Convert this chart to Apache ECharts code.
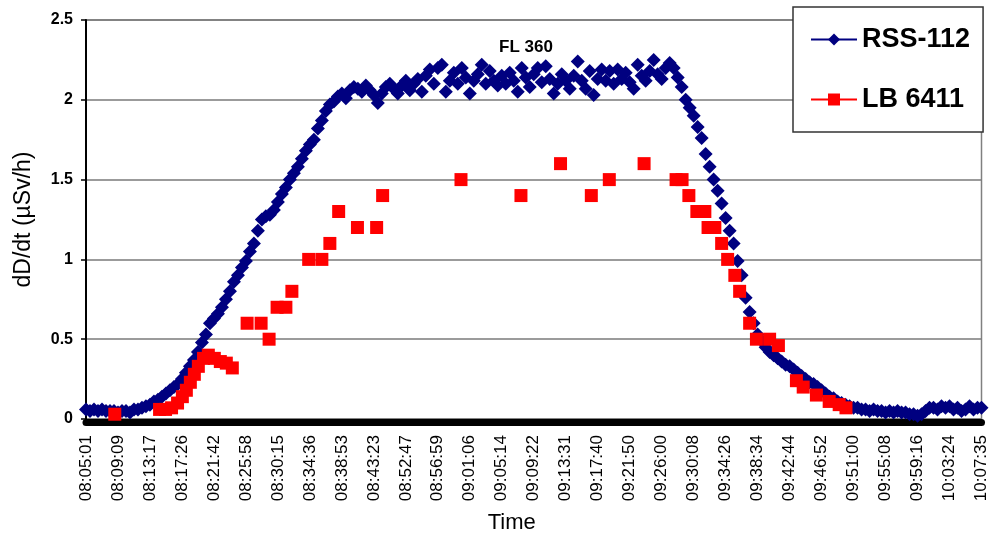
<!DOCTYPE html>
<html>
<head>
<meta charset="utf-8">
<script src="https://cdn.jsdelivr.net/npm/echarts@6/dist/echarts.min.js"></script>
<style>
html,body{margin:0;padding:0;background:#fff;}
#chart{width:990px;height:539px;}
</style>
</head>
<body>
<div id="chart"></div>
<script>
// Tick labels shown on the time axis (one every 8 samples)
var timeLabels = ['08:05:01','08:09:09','08:13:17','08:17:26','08:21:42','08:25:58','08:30:15','08:34:36',
  '08:38:53','08:43:23','08:52:47','08:56:59','09:01:06','09:05:14','09:09:22','09:13:31','09:17:40',
  '09:21:50','09:26:00','09:30:08','09:34:26','09:38:34','09:42:44','09:46:52','09:51:00','09:55:08',
  '09:59:16','10:03:24','10:07:35'];
var samplesPerLabel = 8;

// RSS-112 dose rate, one value per sample (µSv/h)
var rssValues = [
  0.06,0.05,0.06,0.05,0.06,0.05,0.05,0.05,0.04,0.05,
  0.05,0.04,0.06,0.06,0.07,0.08,0.09,0.11,0.12,0.14,
  0.16,0.18,0.2,0.22,0.25,0.29,0.33,0.37,0.42,0.48,
  0.53,0.6,0.63,0.66,0.7,0.75,0.8,0.86,0.9,0.95,
  0.99,1.05,1.1,1.18,1.25,1.27,1.28,1.31,1.36,1.41,
  1.45,1.5,1.54,1.58,1.63,1.68,1.72,1.75,1.82,1.87,
  1.93,1.97,1.99,2.02,2.04,2.01,2.06,2.08,2.07,2.05,
  2.09,2.06,2.03,1.98,2.04,2.08,2.1,2.07,2.04,2.09,
  2.12,2.06,2.1,2.13,2.05,2.15,2.19,2.1,2.2,2.22,
  2.05,2.12,2.17,2.1,2.2,2.14,2.04,2.12,2.16,2.22,
  2.1,2.18,2.12,2.09,2.15,2.1,2.17,2.12,2.05,2.2,
  2.14,2.08,2.16,2.2,2.11,2.21,2.13,2.04,2.1,2.16,
  2.12,2.07,2.15,2.24,2.12,2.07,2.18,2.03,2.13,2.19,
  2.12,2.18,2.1,2.19,2.13,2.17,2.11,2.07,2.22,2.15,
  2.12,2.18,2.25,2.16,2.13,2.2,2.23,2.2,2.14,2.08,
  2.0,1.95,1.9,1.83,1.76,1.66,1.58,1.5,1.43,1.35,
  1.26,1.18,1.1,0.99,0.9,0.76,0.67,0.6,0.53,0.49,
  0.45,0.42,0.4,0.38,0.36,0.34,0.33,0.31,0.29,0.27,
  0.25,0.23,0.22,0.2,0.18,0.16,0.14,0.13,0.11,0.1,
  0.09,0.08,0.07,0.07,0.06,0.06,0.05,0.06,0.05,0.05,
  0.04,0.05,0.04,0.05,0.04,0.04,0.03,0.03,0.02,0.03,
  0.05,0.07,0.07,0.06,0.08,0.07,0.08,0.06,0.07,0.05,
  0.06,0.08,0.06,0.07,0.07
];

// LB 6411 readings: sample position on the time axis and value (µSv/h)
var lbPos = [7.2,18.4,19.9,21.4,22.9,24.1,25.1,26.1,27.1,28.1,29.4,30.6,32.1,33.6,35.1,36.6,
  40.3,43.8,45.8,47.8,50.0,51.5,55.7,59.0,61.0,63.2,67.9,72.7,74.2,93.8,108.8,118.7,126.4,130.9,
  139.6,147.6,149.1,150.8,152.8,154.8,155.6,157.3,159.0,160.5,162.3,163.5,166.0,167.7,171.0,173.2,
  177.7,179.4,182.7,185.9,188.4,190.1];
var lbValues = [0.03,0.06,0.06,0.07,0.1,0.14,0.18,0.23,0.28,0.33,0.38,0.4,0.38,0.36,0.35,0.32,
  0.6,0.6,0.5,0.7,0.7,0.8,1.0,1.0,1.1,1.3,1.2,1.2,1.4,1.5,1.4,1.6,1.4,1.5,
  1.6,1.5,1.5,1.4,1.3,1.3,1.2,1.2,1.1,1.0,0.9,0.8,0.6,0.5,0.5,0.46,
  0.24,0.2,0.15,0.11,0.09,0.07];

var seriesNames = ['RSS-112','LB 6411'];
var flightLevelNote = 'FL 360';

var rssData = rssValues.map(function(v,i){return [i,v];});
var lbData = lbValues.map(function(v,i){return [lbPos[i],v];});
var maxIndex = (timeLabels.length-1)*samplesPerLabel;

var chart = echarts.init(document.getElementById('chart'), null, {renderer:'canvas'});
var FONT = 'Liberation Sans, Arial, sans-serif';
chart.setOption({
  animation:false,
  backgroundColor:'#ffffff',
  grid:{left:86,right:5,top:20,bottom:118,show:true,borderColor:'#808080',borderWidth:1.5,backgroundColor:'transparent'},
  xAxis:{
    type:'value',min:0,max:maxIndex,interval:samplesPerLabel,offset:3,
    axisLine:{show:true,onZero:false,lineStyle:{color:'#000',width:7}},
    axisTick:{show:false},
    splitLine:{show:false},
    axisLabel:{rotate:90,margin:13,fontSize:17,color:'#000',fontFamily:FONT,
      formatter:function(v){var k=Math.round(v/samplesPerLabel);return timeLabels[k]||'';}},
    name:'Time',nameLocation:'middle',nameGap:90,
    nameTextStyle:{fontSize:22,color:'#000',fontFamily:FONT,padding:[0,44,0,0]}
  },
  yAxis:{
    type:'value',min:0,max:2.5,interval:0.5,
    axisLine:{show:true,lineStyle:{color:'#000',width:2}},
    axisTick:{show:true,length:5,lineStyle:{color:'#000',width:1.5}},
    splitLine:{show:true,lineStyle:{color:'#7a7a7a',width:1.5}},
    axisLabel:{margin:13,fontSize:16,fontWeight:'bold',color:'#000',fontFamily:FONT},
    name:'dD/dt (µSv/h)',nameLocation:'middle',nameGap:51,
    nameTextStyle:{fontSize:23,color:'#000',fontFamily:FONT}
  },
  legend:{
    orient:'vertical',left:793,top:7,
    padding:[19,13,19,17],itemGap:33,itemWidth:46,itemHeight:15,
    backgroundColor:'#fff',borderColor:'#333',borderWidth:1.5,borderRadius:0,
    textStyle:{fontSize:27,fontWeight:'bold',color:'#000',fontFamily:FONT},
    lineStyle:{opacity:1,width:2},
    data:seriesNames
  },
  graphic:[{type:'text',left:499,top:39,style:{text:flightLevelNote,fontSize:17,fontWeight:'bold',fill:'#000',fontFamily:FONT}}],
  series:[
    {name:seriesNames[0],type:'line',data:rssData,symbol:'diamond',symbolSize:14,showSymbol:true,
      clip:false,itemStyle:{color:'#000080'},lineStyle:{color:'#000080',width:2,opacity:0},z:2},
    {name:seriesNames[1],type:'line',data:lbData,symbol:'rect',symbolSize:13,showSymbol:true,
      clip:false,itemStyle:{color:'#ff0000'},lineStyle:{color:'#ff0000',width:2,opacity:0},z:3}
  ]
});
</script>
</body>
</html>
